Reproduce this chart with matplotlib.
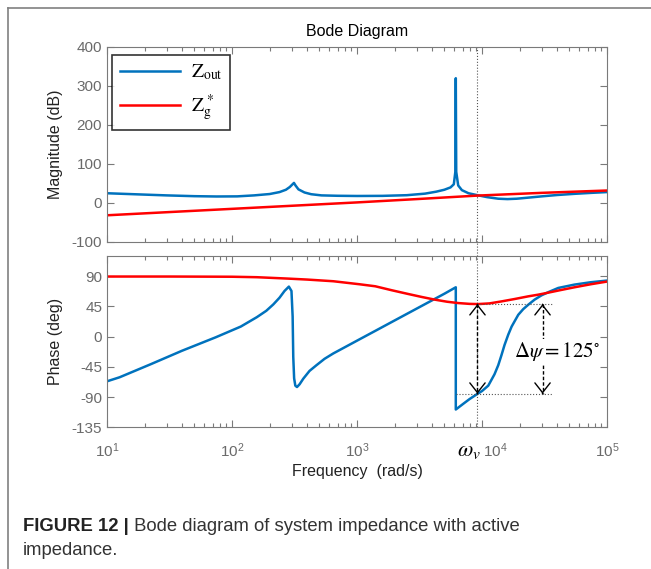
import matplotlib
matplotlib.use("Agg")
import matplotlib.pyplot as plt
import matplotlib.transforms as mtransforms
from matplotlib.lines import Line2D
from matplotlib.ticker import FixedLocator, FixedFormatter, LogLocator, NullFormatter

plt.rcParams['font.family'] = ['Liberation Sans', 'DejaVu Sans']
plt.rcParams['axes.unicode_minus'] = False

# --- valores ---
# magnitude de Zout (dB)
f_zout_mag = [10, 20, 30, 50, 75, 110, 150, 200, 240, 270, 290, 305, 313, 322, 340, 380,
              430, 520, 700, 1000, 1600, 2500, 3500, 4300, 5000, 5600, 5950, 6120, 6170,
              6220, 6450, 6900, 7800, 9200, 11000, 13500, 16000, 19000, 23000, 30000,
              40000, 55000, 75000, 100000]
zout_mag = [25, 21.5, 19.5, 17.5, 16.7, 17, 19.5, 23, 28, 34, 41, 48, 51.5, 45, 35, 27,
            22.5, 19.5, 18.5, 18, 18.3, 20, 24, 29, 34, 40, 48, 80, 320,
            80, 45, 33, 25, 20, 15, 11, 10, 11, 13.5, 17,
            20.5, 23.5, 26, 28]

# magnitude de Zg* (dB)
f_zg_mag = [10, 100, 1000, 3000, 9200, 30000, 100000]
zg_mag = [-31.5, -15, 1.5, 10, 19, 26, 32]

# fase de Zout (graus)
f_zout_ph = [10, 12.6, 22.4, 39.8, 74, 117.5, 158, 188, 214, 240, 263, 285, 299, 305.5,
             309, 314, 321, 331, 347, 372, 417, 474, 550, 646, 759, 1047, 1413, 1995, 2818,
             3981, 5012, 6170, 6170, 7079, 7943, 9226, 10000, 11220, 12590, 13490, 14290,
             15140, 16220, 17260, 19500, 21380, 23440, 26300, 29920, 34670, 40740, 54950,
             74130, 100000]
zout_ph = [-66.5, -60.5, -41, -21, -1, 15, 29, 38.5, 48, 58, 68, 74.5, 68, 30,
           -30, -62, -73, -75, -71, -62.5, -51, -42.5, -33, -25, -18, -4, 9, 24, 39,
           54, 64, 73.5, -108.5, -100, -93, -85, -81, -73, -56, -42.5, -28,
           -12.5, 3, 15, 32.5, 41, 47.5, 55, 61.5, 67, 72.5, 77.5,
           81, 83.5]

# fase de Zg* (graus)
f_zg_ph = [10, 31.6, 100, 158, 275, 398, 646, 759, 1047, 1400, 1905, 2570, 3311, 4217,
           5250, 6457, 7943, 9333, 11480, 14350, 18200, 23440, 28180, 33880, 41690,
           54950, 74130, 100000]
zg_ph = [89.5, 89.5, 89.2, 88.5, 86.5, 85, 82.5, 81, 78, 75, 69, 63.5, 59, 55,
         52, 50, 48.8, 48.5, 49.5, 52.5, 56, 60, 62.5, 65.5, 69,
         73.5, 78, 82]

w_v = 9200          # frequência omega_v
psi_top = 48.5      # fase de Zg* em w_v
psi_bot = -85       # fase de Zout em w_v
f_jump = 6170       # salto de fase de Zout
f_arrow2 = 30500
f_lines_end = 36600

xticks = [1e1, 1e2, 1e3, 1e4, 1e5]
xticklabels = [r'$\mathregular{10^{1}}$', r'$\mathregular{10^{2}}$', r'$\mathregular{10^{3}}$',
               '', r'$\mathregular{10^{5}}$']
mag_ticks = [-100, 0, 100, 200, 300, 400]
ph_ticks = [-135, -90, -45, 0, 45, 90]

azul = '#0072BD'
vermelho = '#FF0000'
cinza = '#7a7a7a'
cinza_txt = '#6a6a6a'

fig = plt.figure(figsize=(6.51, 5.69), dpi=100)
ax1 = fig.add_axes([0.1644, 0.5747, 0.768, 0.3427])
ax2 = fig.add_axes([0.1644, 0.249, 0.768, 0.301])

for ax in (ax1, ax2):
    ax.set_xscale('log')
    ax.set_xlim(10, 1e5)
    ax.xaxis.set_major_locator(FixedLocator(xticks))
    ax.xaxis.set_minor_locator(LogLocator(base=10, subs=range(2, 10), numticks=20))
    ax.xaxis.set_minor_formatter(NullFormatter())
    ax.tick_params(which='both', direction='in', top=True, right=True, colors=cinza,
                   labelcolor=cinza_txt, labelsize=11, width=0.8)
    ax.tick_params(which='major', length=5)
    ax.tick_params(which='minor', length=3)
    for s in ax.spines.values():
        s.set_color(cinza)
        s.set_linewidth(0.8)
    # linha vertical pontilhada em w_v
    ax.axvline(w_v, color='#555555', lw=0.8, ls=':', zorder=1)

# --- magnitude ---
ax1.plot(f_zout_mag, zout_mag, color=azul, lw=1.8, label=r'$\mathrm{Z}_{\mathrm{out}}$')
ax1.plot(f_zg_mag, zg_mag, color=vermelho, lw=1.8, label=r'$\mathrm{Z}_{\mathrm{g}}^{\,*}$')
ax1.set_ylim(-100, 400)
ax1.set_yticks(mag_ticks)
ax1.set_xticklabels([])
ax1.set_ylabel('Magnitude (dB)', fontsize=11.5, color='#222222', labelpad=6)
ax1.set_title('Bode Diagram', fontsize=11.5, color='black', pad=8)
leg = ax1.legend(loc='upper left', bbox_to_anchor=(0.01, 0.96), borderaxespad=0,
                 fancybox=False, edgecolor='black', fontsize=14, handlelength=3.1,
                 handletextpad=0.55, labelspacing=0.5, borderpad=0.4)
leg.get_frame().set_linewidth(1.2)
for t in leg.get_texts():
    t.set_math_fontfamily('stix')

# --- fase ---
ax2.plot(f_zout_ph, zout_ph, color=azul, lw=1.8)
ax2.plot(f_zg_ph, zg_ph, color=vermelho, lw=1.8)
ax2.set_ylim(-135, 120)
ax2.set_yticks(ph_ticks)
ax2.xaxis.set_major_formatter(FixedFormatter(xticklabels))
ax2.tick_params(axis='x', which='major', pad=10)
ax2.set_ylabel('Phase (deg)', fontsize=11.5, color='#222222', labelpad=6)
ax2.set_xlabel('Frequency  (rad/s)', fontsize=11.5, color='#222222', labelpad=3)

# rótulo 10^4 deslocado e omega_v
ax2.annotate(r'$\mathregular{10^{4}}$', xy=(1e4, 0), xycoords=('data', 'axes fraction'),
             xytext=(1, -10), textcoords='offset points', ha='left', va='top',
             fontsize=11, color=cinza_txt)
t_w = ax2.annotate(r'$\omega_v$', xy=(w_v, 0), xycoords=('data', 'axes fraction'),
                   xytext=(-6, -9), textcoords='offset points', ha='center', va='top',
                   fontsize=16, color='black')
t_w.set_math_fontfamily('stix')

# trecho da linha de w_v entre os dois eixos
trans = mtransforms.blended_transform_factory(ax2.transData, fig.transFigure)
fig.add_artist(Line2D([w_v, w_v], [0.249 + 0.301, 0.5747], transform=trans,
                      color='#555555', lw=0.8, ls=':'))

# linhas horizontais auxiliares
ax2.plot([w_v, f_lines_end], [psi_top, psi_top], color='#555555', lw=0.8, ls=':')
ax2.plot([f_jump, f_lines_end], [psi_bot, psi_bot], color='#555555', lw=0.8, ls=':')

# setas de delta psi
for xa in (w_v, f_arrow2):
    ax2.plot([xa, xa], [psi_top, psi_bot], color='black', lw=1, ls=(0, (2.5, 1.5)))
    for y0, y1 in ((psi_top - 1, psi_top), (psi_bot + 1, psi_bot)):
        ax2.annotate('', xy=(xa, y1), xytext=(xa, y0),
                     arrowprops=dict(arrowstyle='->,head_length=0.7,head_width=0.55',
                                     lw=1, color='black', shrinkA=0, shrinkB=0))

t_psi = ax2.text(40000, -22, r'$\Delta\psi = 125^{\circ}$', fontsize=15, ha='center',
                 va='center', color='black',
                 bbox=dict(facecolor='white', edgecolor='none', pad=0.5))
t_psi.set_math_fontfamily('stix')

# legenda da figura
cap1 = fig.text(23 / 651, 1 - 531 / 569, 'FIGURE 12 |', fontsize=13.3, fontweight='bold',
                color='#222222', va='baseline')
ax2.annotate(' Bode diagram of system impedance with active', xy=(1, 0), xycoords=cap1,
             va='bottom', ha='left', fontsize=13.3, color='#333333', annotation_clip=False)
fig.text(23 / 651, 1 - 555 / 569, 'impedance.', fontsize=13.3, color='#333333', va='baseline')

# moldura cinza
fig.add_artist(Line2D([7.5 / 651, 7.5 / 651], [0, 1 - 8 / 569], transform=fig.transFigure,
                      color='#808080', lw=1.2))
fig.add_artist(Line2D([7.5 / 651, 1], [1 - 8 / 569, 1 - 8 / 569], transform=fig.transFigure,
                      color='#808080', lw=1.2))

fig.savefig('out.png', dpi=100)
